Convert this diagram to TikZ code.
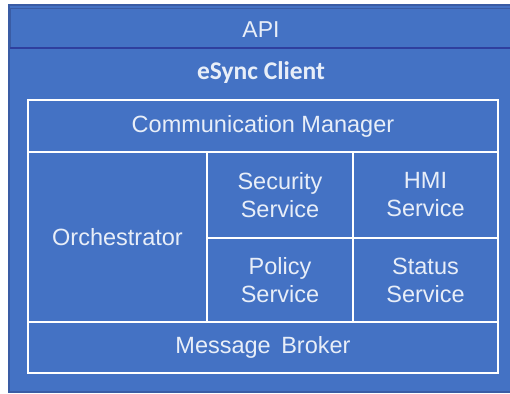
\documentclass[tikz,border=0pt]{standalone}
\usepackage{fontspec}
\setmainfont{Liberation Sans}
\newfontfamily\calibrifont{Carlito}
\definecolor{fillblue}{HTML}{4472C4}
\definecolor{darkline}{HTML}{2F3F9E}
\definecolor{edgeblue}{HTML}{3A5CA4}
\definecolor{txt}{HTML}{E8EEF8}
\begin{document}
\begin{tikzpicture}[x=1pt,y=-1pt,
  frame/.style={fill=fillblue, inner sep=0pt, outer sep=0pt},
  cell/.style={draw=white, line width=2pt, fill=fillblue, text=txt, inner sep=0pt, outer sep=0pt, align=center, font=\fontsize{23.5}{28}\selectfont},
  label/.style={text=txt, inner sep=0pt, align=center}]
\useasboundingbox (0,0) rectangle (510,393);
\fill[white] (0,0) rectangle (510,393);
\node[frame, draw=edgeblue, line width=1.5pt, minimum width=504pt, minimum height=387pt] (outer) at (261,198.5) {};
\node[frame, draw=edgeblue, line width=0.8pt, minimum width=503pt, minimum height=40pt] (api) at (261.5,28) {};
\draw[darkline, line width=2.5pt] (api.south west) -- (api.south east);
\node[label, font=\fontsize{23}{27}\selectfont] (apitxt) at (261,30) {API};
\node[label, font=\calibrifont\bfseries\fontsize{25.5}{29}\selectfont] (client) at (261,73) {eSync Client};
\node[cell, minimum width=470pt, minimum height=52pt] (comm) at (263,126) {\raisebox{-2pt}{Communication Manager}};
\node[cell, minimum width=179pt, minimum height=170pt] (orch) at (117.5,237) {\raisebox{-1pt}{Orchestrator}};
\node[cell, minimum width=146pt, minimum height=86pt] (sec) at (280,195) {Security\\Service};
\node[cell, minimum width=145pt, minimum height=86pt] (hmi) at (425.5,195) {HMI\\Service};
\node[cell, minimum width=146pt, minimum height=84pt] (pol) at (280,280) {Policy\\Service};
\node[cell, minimum width=145pt, minimum height=84pt] (stat) at (425.5,280) {Status\\Service};
\node[cell, minimum width=470pt, minimum height=51pt] (msg) at (263,347.5) {\raisebox{-2pt}{Message\hspace{0.45em}Broker}};
\end{tikzpicture}
\end{document}
